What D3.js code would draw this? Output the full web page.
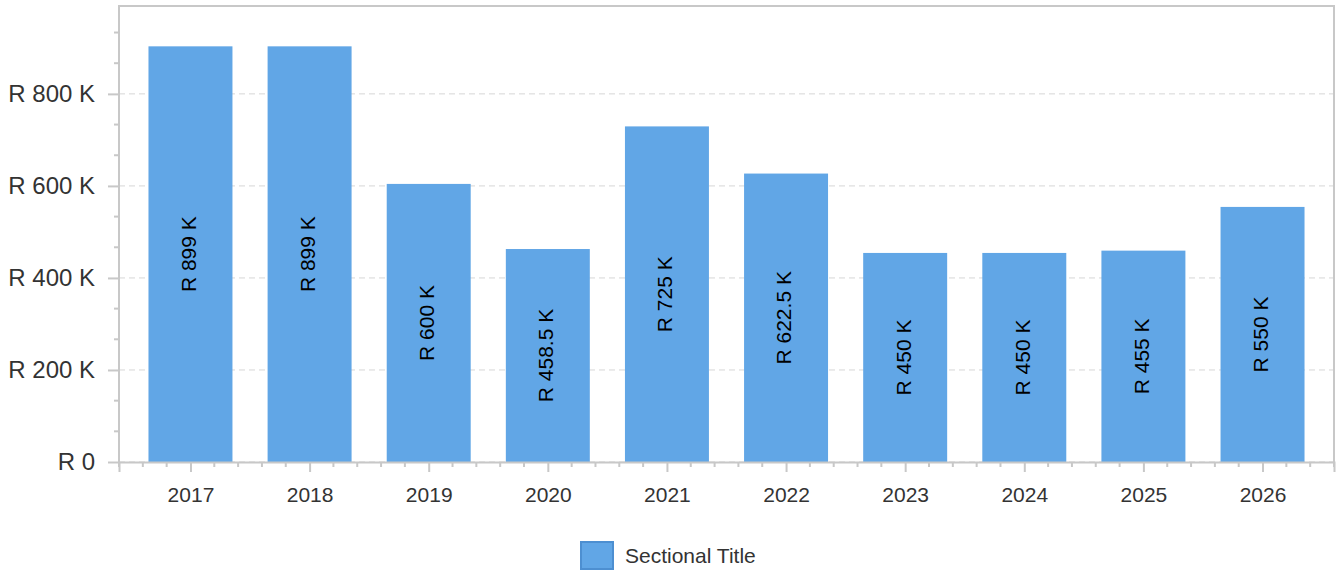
<!DOCTYPE html>
<html lang="en">
<head>
<meta charset="utf-8">
<title>Sectional Title by Year</title>
<script src="https://d3js.org/d3.v7.min.js"></script>
<style>
  body { margin: 0; background: #fff; }
  svg text { fill: #333; }
</style>
</head>
<body>
<script>
// chart data
const years = ["2017", "2018", "2019", "2020", "2021", "2022", "2023", "2024", "2025", "2026"];
const values = [899, 899, 600, 458.5, 725, 622.5, 450, 450, 455, 550]; // in thousands
const valueLabels = ["R 899 K", "R 899 K", "R 600 K", "R 458.5 K", "R 725 K", "R 622.5 K", "R 450 K", "R 450 K", "R 455 K", "R 550 K"];
const yTicks = [0, 200, 400, 600, 800];
const seriesName = "Sectional Title";

const width = 1340, height = 572;
const plotL = 119, plotR = 1334, plotT = 6, plotB = 462;
const barColor = "#61a6e6";
const axisColor = "#c8c8c8";
const font = "'Liberation Sans', Arial, sans-serif";

const svg = d3.select("body").append("svg")
  .attr("width", width)
  .attr("height", height);

// x is an index scale, padded 0.6 category each side
const x = d3.scaleLinear().domain([-0.6, years.length - 0.4]).range([plotL, plotR]);
const y = d3.scaleLinear().domain([0, 991]).range([plotB, plotT]);
const barW = x(0.705) - x(0);

// gridlines
svg.append("g")
  .selectAll("line")
  .data(yTicks)
  .join("line")
  .attr("x1", plotL).attr("x2", plotR)
  .attr("y1", d => y(d)).attr("y2", d => y(d))
  .attr("stroke", "#d6d6d6")
  .attr("stroke-width", 1)
  .attr("stroke-dasharray", "6,4");

// bars
svg.append("g")
  .selectAll("rect")
  .data(values)
  .join("rect")
  .attr("x", (d, i) => x(i) - barW / 2)
  .attr("y", d => y(d) - 2)
  .attr("width", barW)
  .attr("height", d => plotB - y(d) + 2)
  .attr("fill", barColor);

// value labels, rotated
svg.append("g")
  .selectAll("text")
  .data(values)
  .join("text")
  .attr("transform", (d, i) => `translate(${x(i) - 2},${(y(d) - 2 + plotB) / 2}) rotate(-90)`)
  .attr("text-anchor", "middle")
  .attr("dy", "0.35em")
  .style("font-family", font)
  .style("font-size", "21px")
  .style("fill", "#000")
  .text((d, i) => valueLabels[i]);

// frame: left, top, right
svg.append("path")
  .attr("d", `M${plotL},${plotB}V${plotT}H${plotR}V${plotB}`)
  .attr("fill", "none")
  .attr("stroke", axisColor)
  .attr("stroke-width", 2);

// y axis
const yAxis = d3.axisLeft(y)
  .tickValues(yTicks)
  .tickSize(11)
  .tickPadding(13)
  .tickFormat(d => d === 0 ? "R 0" : `R ${d} K`);
const gy = svg.append("g").attr("transform", `translate(${plotL},0)`).call(yAxis);
gy.select(".domain").remove();
gy.selectAll(".tick line").attr("stroke", axisColor).attr("stroke-width", 2);
gy.selectAll(".tick text")
  .style("font-family", font)
  .style("font-size", "24px")
  .style("fill", "#333");

// y minor ticks
const yMinor = d3.range(0, 991, 200 / 3).filter(v => !yTicks.includes(Math.round(v)));
svg.append("g")
  .selectAll("line")
  .data(yMinor)
  .join("line")
  .attr("x1", plotL - 5).attr("x2", plotL)
  .attr("y1", d => y(d)).attr("y2", d => y(d))
  .attr("stroke", axisColor)
  .attr("stroke-width", 2);

// x axis
const xAxis = d3.axisBottom(x)
  .tickValues(d3.range(years.length))
  .tickSize(10)
  .tickPadding(15)
  .tickFormat(i => years[i]);
const gx = svg.append("g").attr("transform", `translate(0,${plotB})`).call(xAxis);
gx.select(".domain").attr("stroke", axisColor).attr("stroke-width", 2);
gx.selectAll(".tick line").attr("stroke", axisColor).attr("stroke-width", 2);
gx.selectAll(".tick text")
  .style("font-family", font)
  .style("font-size", "21px")
  .style("fill", "#333");

// x minor ticks every 0.2 category
const xMinor = d3.range(-0.6, years.length - 0.39, 0.2)
  .filter(v => Math.abs(v - Math.round(v)) > 0.01);
svg.append("g")
  .selectAll("line")
  .data(xMinor)
  .join("line")
  .attr("x1", d => x(d)).attr("x2", d => x(d))
  .attr("y1", plotB).attr("y2", plotB + 5)
  .attr("stroke", axisColor)
  .attr("stroke-width", 2);

// legend
const legend = svg.append("g").attr("transform", "translate(581,542)");
legend.append("rect")
  .attr("width", 32).attr("height", 27)
  .attr("fill", barColor)
  .attr("stroke", "#4d8fd1")
  .attr("stroke-width", 2);
legend.append("text")
  .attr("x", 44).attr("y", 21)
  .style("font-family", font)
  .style("font-size", "21px")
  .style("fill", "#333")
  .text(seriesName);
</script>
</body>
</html>
